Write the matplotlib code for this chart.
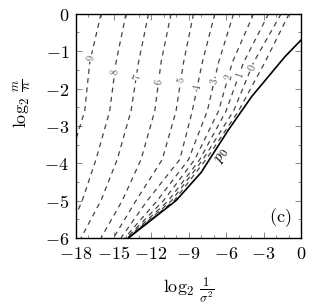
import numpy as np
import matplotlib
matplotlib.use("Agg")
import matplotlib.pyplot as plt
from matplotlib.ticker import MultipleLocator

plt.rcParams['mathtext.fontset'] = 'cm'
plt.rcParams['font.family'] = ['DejaVu Serif']

levels_y = [0, -1.3, -2.6, -3.9, -5.0, -6.0]

# x position of each dashed contour at levels_y (left to right)
contours = {
    '9': [-16.0, -16.9, -17.3, -18.5, -19.5, -20.5],
    '8': [-14.0, -14.8, -15.3, -16.4, -17.5, -18.8],
    '7': [-12.2, -13.0, -13.6, -14.7, -16.0, -17.6],
    '6': [-10.4, -11.2, -11.7, -12.8, -14.3, -16.0],
    '5': [-8.6, -9.4, -10.0, -11.1, -13.2, -15.0],
    '4': [-6.9, -7.9, -8.7, -9.7, -12.3, -14.4],
    '3': [-5.4, -6.6, -7.5, -9.0, -11.5, -14.1],
    '2': [-3.8, -5.5, -6.6, -8.5, -11.0, -13.95],
    '1': [-2.6, -4.6, -6.0, -8.1, -10.6, -13.88],
    '0': [-1.6, -3.8, -5.4, -7.85, -10.35, -13.84],
    '': [-0.96, -2.9, -5.0, -7.6, -10.15, -13.82],
}
# y where each label sits on its contour
label_y = {'9': -1.18, '8': -1.55, '7': -1.68, '6': -1.82, '5': -1.77,
           '4': -1.96, '3': -1.82, '2': -1.70, '1': -1.63, '0': -1.45}

# solid p0 boundary
p0_x = [-13.8, -10.0, -8.0, -5.8, -3.94, -1.3, 0.0]
p0_y = [-6.0, -5.0, -4.25, -3.1, -2.21, -1.15, -0.7]

fig = plt.figure(figsize=(3.14, 3.07), dpi=100)
ax = fig.add_axes([0.242, 0.225, 0.717, 0.730])
ax.set_xlim(-18, 0)
ax.set_ylim(-6, 0)

for name, xs in contours.items():
    ax.plot(xs, levels_y, color='#444444', lw=0.9, dashes=(4, 3.5), zorder=2)

ax.plot(p0_x, p0_y, color='black', lw=1.2, zorder=3)

fig.canvas.draw()
to_px = ax.transData.transform
for name, ly in label_y.items():
    xs = contours[name]
    # levels_y is descending, reverse for interp
    lx = np.interp(ly, levels_y[::-1], xs[::-1])
    x2 = np.interp(ly - 0.3, levels_y[::-1], xs[::-1])
    a = to_px((lx, ly))
    b = to_px((x2, ly - 0.3))
    ang = np.degrees(np.arctan2(a[1] - b[1], a[0] - b[0]))
    ax.text(lx, ly, r'$%s$' % name, fontsize=7.5, color='#555555', rotation=ang,
            rotation_mode='anchor', ha='center', va='center',
            bbox=dict(facecolor='white', edgecolor='none', pad=0.3), zorder=4)

ax.text(-6.3, -3.8, r'$p_0$', fontsize=11, rotation=58, ha='center', va='center', zorder=4)
ax.text(0.905, 0.09, r'$\mathrm{(c)}$', fontsize=13, transform=ax.transAxes,
        ha='center', va='center')

ax.xaxis.set_minor_locator(MultipleLocator(1))
ax.yaxis.set_minor_locator(MultipleLocator(0.5))
ax.set_xticks(np.arange(-18, 1, 3))
ax.set_xticklabels([r'$%d$' % v for v in range(-18, 1, 3)])
ax.set_yticks(np.arange(-6, 1, 1))
ax.set_yticklabels([r'$%d$' % v for v in range(-6, 1, 1)])
ax.tick_params(which='both', direction='in', top=True, right=True, color='0.45', width=0.6)
ax.tick_params(which='major', length=4, labelsize=13)
ax.tick_params(axis='x', which='major', pad=5)
ax.tick_params(axis='y', which='major', pad=5)
ax.tick_params(which='minor', length=2.5)
for s in ax.spines.values():
    s.set_linewidth(1.0)

ax.set_xlabel(r'$\log_2\,\frac{1}{\sigma^2}$', fontsize=13)
ax.set_ylabel(r'$\log_2\,\frac{m}{n}$', fontsize=13)
ax.xaxis.set_label_coords(0.5, -0.17)
ax.yaxis.set_label_coords(-0.19, 0.6)

fig.savefig('out.png', dpi=100)
